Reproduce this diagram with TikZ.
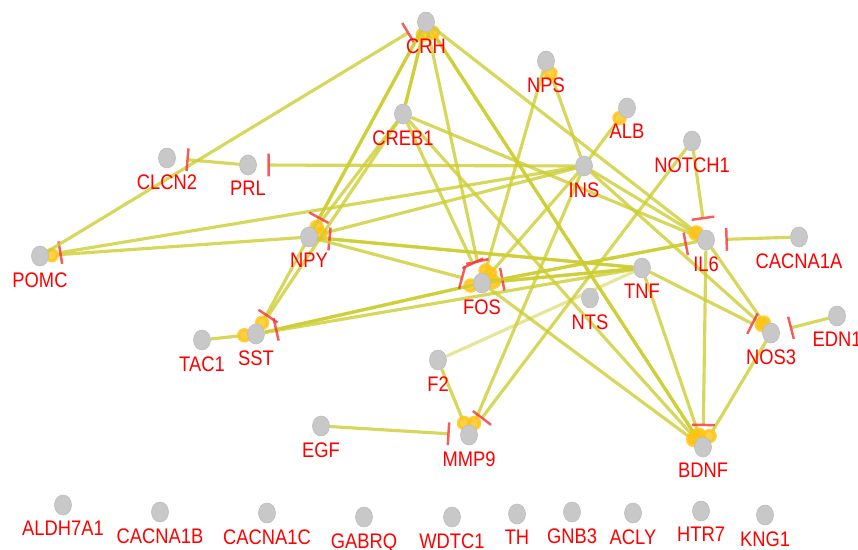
\documentclass[tikz,border=0pt]{standalone}
\usepackage{fontspec}
\setmainfont{Liberation Sans}[FakeStretch=0.87]
\usepackage{tikz}
\usetikzlibrary{arrows.meta,shapes.geometric,backgrounds}
\usepackage{xcolor}
\definecolor{ppigray}{RGB}{200,200,200}
\definecolor{ppigrayline}{RGB}{186,186,186}
\definecolor{ppiedge}{RGB}{205,205,50}
\definecolor{ppidot}{RGB}{255,196,20}
\definecolor{ppired}{RGB}{245,50,50}
\definecolor{ppilabel}{RGB}{255,0,0}
\tikzstyle{gene} = [ellipse, fill=ppigray, draw=ppigrayline, line width=0.3pt, minimum width=9.7pt, minimum height=11.4pt, inner sep=0pt]
\tikzstyle{glabel} = [text=ppilabel, font=\fontsize{12}{14}\selectfont]
\tikzstyle{link} = [line width=1.8pt, color=ppiedge, opacity=0.8]
\tikzstyle{act} = [link, -{Circle[length=8.3pt, color=ppidot, fill=ppidot]}, shorten >=-2.5pt]
\tikzstyle{inh} = [link, -{Bar[width=13pt, line width=1.4pt, color=ppired]}, shorten >=6pt]

\begin{document}
\begin{tikzpicture}[x=0.02cm, y=-0.02cm]
\useasboundingbox (0,0) rectangle (858,550);
\clip (0,0) rectangle (858,550);

% Genes in the network
\node[gene, label={[glabel]below:CRH}] (crh) at (426,22) {};
\node[gene, label={[glabel]below:NPS}] (nps) at (546,61) {};
\node[gene, label={[glabel]below:ALB}] (alb) at (627,108) {};
\node[gene, label={[glabel]below:CREB1}] (creb1) at (403,114) {};
\node[gene, label={[glabel]below:CLCN2}] (clcn2) at (167,158) {};
\node[gene, label={[glabel]below:PRL}] (prl) at (248,165) {};
\node[gene, label={[glabel]below:INS}] (ins) at (584,166) {};
\node[gene, label={[glabel]below:NOTCH1}] (notch1) at (692,141) {};
\node[gene, label={[glabel]below:POMC}] (pomc) at (40,256) {};
\node[gene, label={[glabel]below:NPY}] (npy) at (309,237) {};
\node[gene, label={[glabel]below:IL6}] (il6) at (706,240) {};
\node[gene, label={[glabel]below:CACNA1A}] (cacna1a) at (799,237) {};
\node[gene, label={[glabel]below:TNF}] (tnf) at (642,268) {};
\node[gene, label={[glabel]below:FOS}] (fos) at (482,283) {};
\node[gene, label={[glabel]below:NTS}] (nts) at (590,298) {};
\node[gene, label={[glabel]below:SST}] (sst) at (256,334) {};
\node[gene, label={[glabel]below:TAC1}] (tac1) at (202,340) {};
\node[gene, label={[glabel]below:NOS3}] (nos3) at (771,333) {};
\node[gene, label={[glabel]below:EDN1}] (edn1) at (837,316) {};
\node[gene, label={[glabel]below:F2}] (f2) at (438,360) {};
\node[gene, label={[glabel]below:EGF}] (egf) at (321,426) {};
\node[gene, label={[glabel]below:MMP9}] (mmp9) at (469,435) {};
\node[gene, label={[glabel]below:BDNF}] (bdnf) at (703,447) {};

% Unlinked genes
\foreach \g/\x/\y in {ALDH7A1/63/505, CACNA1B/160/512, CACNA1C/267/513,
    GABRQ/364/517, WDTC1/452/517, TH/517/514, GNB3/572/512,
    ACLY/633/513, HTR7/701/511, KNG1/765/515} {
    \node[gene, label={[glabel]below:\g}] (\g) at (\x,\y) {};
}

% Interactions
\begin{scope}[on background layer]
\foreach \a/\b in {crh/creb1, sst/tnf, npy/tnf, fos/tnf, creb1/il6} {
    \draw[link] (\a) -- (\b);
}
\draw[link, opacity=0.5] (f2) -- (tnf);

% activation
\foreach \a/\b in {npy/pomc, creb1/crh, crh/bdnf, bdnf/crh, creb1/npy,
    ins/npy, crh/sst, tac1/sst, ins/alb, ins/nps, nps/fos, ins/fos,
    sst/fos, tnf/fos, ins/il6, crh/il6, il6/nos3, ins/nos3, nos3/bdnf,
    tnf/bdnf, fos/bdnf, creb1/bdnf, ins/mmp9, f2/mmp9} {
    \draw[act] (\a) -- (\b);
}

% inhibition
\foreach \a/\b in {ins/pomc, pomc/crh, prl/clcn2, ins/prl, crh/npy,
    tnf/npy, creb1/sst, fos/sst, crh/fos, creb1/fos, npy/fos, il6/fos,
    fos/il6, notch1/il6, cacna1a/il6, notch1/mmp9, egf/mmp9, tnf/nos3,
    edn1/nos3, il6/bdnf} {
    \draw[inh] (\a) -- (\b);
}
\end{scope}
\end{tikzpicture}
\end{document}
